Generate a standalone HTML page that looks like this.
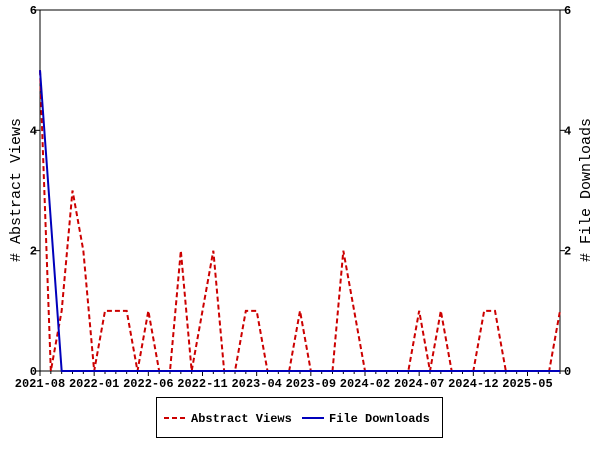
<!DOCTYPE html>
<html><head><meta charset="utf-8"><style>
html,body{margin:0;padding:0;background:#fff;}
svg{display:block;font-family:"Liberation Mono",monospace;}
</style></head><body>
<svg id="chart" width="600" height="450" xmlns="http://www.w3.org/2000/svg">
<rect x="0" y="0" width="600" height="450" fill="#fff"/>
<g id="axes"></g>
<g id="series"></g>
<text x="20" y="190" transform="rotate(-90 20 190)" text-anchor="middle" font-size="15"># Abstract Views</text>
<text x="590" y="190" transform="rotate(-90 590 190)" text-anchor="middle" font-size="15"># File Downloads</text>
<g>
<rect x="156.5" y="397.5" width="286" height="40" fill="#fff" stroke="#000"/>
<line x1="164" y1="418" x2="186" y2="418" stroke="#cc0000" stroke-width="2" stroke-dasharray="5,3"/>
<text x="191" y="422" font-size="12" font-weight="bold">Abstract Views</text>
<line x1="302" y1="418" x2="324" y2="418" stroke="#0000bb" stroke-width="2"/>
<text x="329" y="422" font-size="12" font-weight="bold">File Downloads</text>
</g>
</svg>
<script>
const startYear = 2021, startMonth = 8;
const abstractViews = [5,0,1,3,2,0,1,1,1,0,1,0,0,2,0,1,2,0,0,1,1,0,0,0,1,0,0,0,2,1,0,0,0,0,0,1,0,1,0,0,0,1,1,0,0,0,0,0,1];
const fileDownloads = [5,2.5,0,0,0,0,0,0,0,0,0,0,0,0,0,0,0,0,0,0,0,0,0,0,0,0,0,0,0,0,0,0,0,0,0,0,0,0,0,0,0,0,0,0,0,0,0,0,0];
const yTicks = [0,2,4,6];
const labelEvery = 5;

const NS = "http://www.w3.org/2000/svg";
const L = 40, R = 560, T = 10, B = 371;
const n = abstractViews.length;
const xS = i => L + (R - L) * i / (n - 1);
const yS = v => B - (B - T) * v / 6;
function mk(tag, attrs, parent) {
  const e = document.createElementNS(NS, tag);
  for (const k in attrs) e.setAttribute(k, attrs[k]);
  parent.appendChild(e);
  return e;
}
const axes = document.getElementById('axes');
const series = document.getElementById('series');
const frame = mk('rect', {x: L, y: T, width: R - L, height: B - T, fill: 'none', stroke: '#000', 'stroke-width': 1}, axes);


for (let i = 0; i < n; i++) {
  const x = xS(i);
  const major = i % labelEvery === 0;
  const t = mk('line', {x1: x, y1: B, x2: x, y2: B + (major ? 5 : 3), stroke: '#000'}, axes);
  
  
  if (major) {
    const m0 = startMonth - 1 + i;
    const yr = startYear + Math.floor(m0 / 12);
    const mo = (m0 % 12) + 1;
    const tx = mk('text', {x: x, y: B + 16, 'text-anchor': 'middle', 'font-size': 12, 'font-weight': 'bold'}, axes);
    tx.textContent = yr + '-' + String(mo).padStart(2, '0');
    
    
  }
}
yTicks.forEach(v => {
  const y = yS(v);
  const a = mk('line', {x1: L - 5, y1: y, x2: L, y2: y, stroke: '#000'}, axes);
  
  
  const b = mk('line', {x1: R, y1: y, x2: R + 5, y2: y, stroke: '#000'}, axes);
  
  
  const lt = mk('text', {x: L - 3, y: y + 4, 'text-anchor': 'end', 'font-size': 12, 'font-weight': 'bold'}, axes);
  lt.textContent = v;
  
  
  const rt = mk('text', {x: R + 4, y: y + 4, 'text-anchor': 'start', 'font-size': 12, 'font-weight': 'bold'}, axes);
  rt.textContent = v;
  
  
});
const av = mk('polyline', {points: abstractViews.map((v, i) => xS(i) + ',' + yS(v)).join(' '), fill: 'none', stroke: '#cc0000', 'stroke-width': 2, 'stroke-dasharray': '5,3'}, series);


const fd = mk('polyline', {points: fileDownloads.map((v, i) => xS(i) + ',' + yS(v)).join(' '), fill: 'none', stroke: '#0000bb', 'stroke-width': 2}, series);


</script>
</body></html>
